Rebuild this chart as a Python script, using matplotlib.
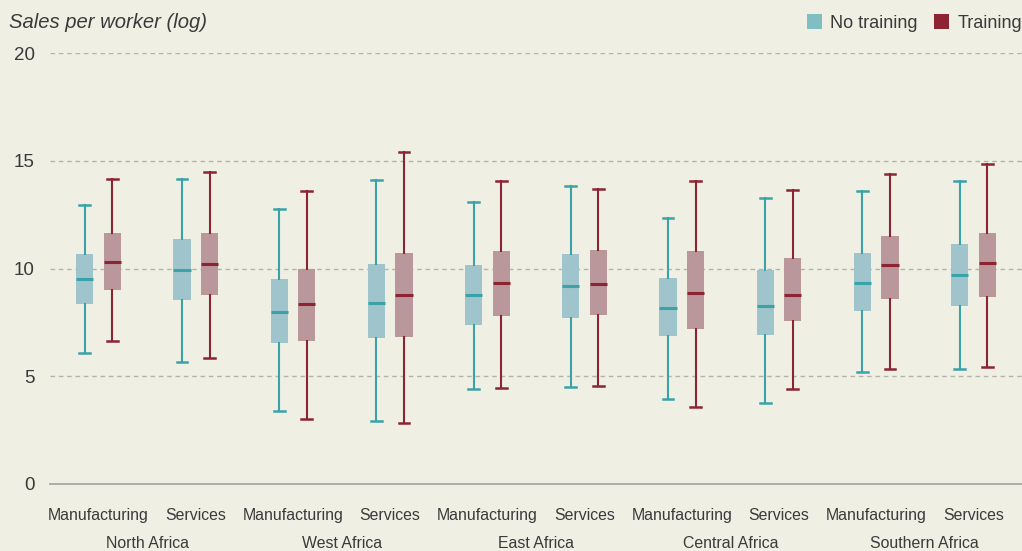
import numpy as np
import matplotlib.pyplot as plt
from matplotlib.patches import Patch
from matplotlib.transforms import blended_transform_factory

# data (log sales per worker)
regions = ['North Africa', 'West Africa', 'East Africa', 'Central Africa', 'Southern Africa']
sectors = ['Manufacturing', 'Services']

# order: NA-M, NA-S, WA-M, WA-S, EA-M, EA-S, CA-M, CA-S, SA-M, SA-S
nt_lo  = [6.08, 5.67, 3.40, 2.92, 4.43, 4.48, 3.94, 3.77, 5.22, 5.32]
nt_q1  = [8.34, 8.56, 6.56, 6.79, 7.36, 7.69, 6.85, 6.90, 8.01, 8.25]
nt_med = [9.49, 9.94, 8.00, 8.42, 8.79, 9.21, 8.19, 8.25, 9.33, 9.71]
nt_q3  = [10.65, 11.35, 9.53, 10.19, 10.14, 10.65, 9.58, 9.95, 10.74, 11.12]
nt_hi  = [12.93, 14.15, 12.76, 14.09, 13.08, 13.83, 12.33, 13.29, 13.58, 14.05]

tr_lo  = [6.65, 5.86, 3.02, 2.84, 4.47, 4.56, 3.57, 4.43, 5.35, 5.44]
tr_q1  = [8.98, 8.79, 6.65, 6.84, 7.78, 7.83, 7.18, 7.55, 8.57, 8.67]
tr_med = [10.29, 10.19, 8.34, 8.76, 9.32, 9.30, 8.84, 8.76, 10.16, 10.25]
tr_q3  = [11.67, 11.67, 10.00, 10.74, 10.79, 10.88, 10.79, 10.51, 11.53, 11.67]
tr_hi  = [14.15, 14.47, 13.61, 15.40, 14.05, 13.67, 14.05, 13.63, 14.37, 14.84]

yticks = [0, 5, 10, 15, 20]

BG = '#eff0e3'
NT_FILL, NT_LINE, NT_LEG = '#a0c4cb', '#3aa2a8', '#7fbec3'
TR_FILL, TR_LINE, TR_LEG = '#b9979a', '#8c2433', '#8c2433'
TXT = '#3a3a3a'
NARROW = ['Liberation Sans Narrow', 'Liberation Sans', 'DejaVu Sans']

plt.rcParams['font.family'] = ['Liberation Sans', 'DejaVu Sans']

fig = plt.figure(figsize=(10.22, 5.51), dpi=100, facecolor=BG)
ax = fig.add_axes([50 / 1022, 1 - 484 / 551, 1 - 50 / 1022, (484 - 53) / 551])
ax.set_facecolor(BG)


def stats(lo, q1, med, q3, hi):
    return [dict(whislo=a, q1=b, med=c, q3=d, whishi=e, fliers=[])
            for a, b, c, d, e in zip(lo, q1, med, q3, hi)]


x = np.arange(len(nt_med))
off = 0.142
w = 0.175

for st, pos, fill, line in [
    (stats(nt_lo, nt_q1, nt_med, nt_q3, nt_hi), x - off, NT_FILL, NT_LINE),
    (stats(tr_lo, tr_q1, tr_med, tr_q3, tr_hi), x + off, TR_FILL, TR_LINE),
]:
    ax.bxp(st, positions=pos, widths=w, capwidths=0.11, patch_artist=True,
           showfliers=False, manage_ticks=False,
           boxprops=dict(facecolor=fill, edgecolor='none', linewidth=0),
           medianprops=dict(color=line, linewidth=2.2),
           whiskerprops=dict(color=line, linewidth=1.5),
           capprops=dict(color=line, linewidth=1.8))

ax.set_xlim(-0.5, 9.5)
ax.set_ylim(0, 20)
ax.set_yticks(yticks)
ax.set_yticklabels([str(t) for t in yticks], fontsize=13.5, color=TXT)
for t in yticks[1:]:
    ax.axhline(t, color='#b3b3ad', linestyle=(0, (3.3, 2.7)), linewidth=1.0, zorder=0)
ax.axhline(0, color='#a8a8a4', linewidth=1.3, zorder=0, clip_on=False)

ax.set_xticks(x)
ax.set_xticklabels(sectors * len(regions), fontsize=11.4, color=TXT,
                   family=NARROW, fontstretch='condensed')
ax.tick_params(axis='both', length=0)
ax.tick_params(axis='y', pad=11)
ax.tick_params(axis='x', pad=17)

trans = blended_transform_factory(ax.transData, ax.transAxes)
for i, reg in enumerate(regions):
    ax.text(2 * i + 0.5, -0.138, reg, transform=trans, ha='center', va='center',
            fontsize=11.4, color=TXT, family=NARROW, fontstretch='condensed')

for s in ax.spines.values():
    s.set_visible(False)

fig.text(9 / 1022, 1 - 22 / 551, 'Sales per worker (log)', fontsize=14.6,
         style='italic', color=TXT, ha='left', va='center')

handles = [Patch(facecolor=NT_LEG, edgecolor='none', label='No training'),
           Patch(facecolor=TR_LEG, edgecolor='none', label='Training')]
fig.legend(handles=handles, loc='center right', bbox_to_anchor=(1.0, 1 - 23 / 551),
           ncol=2, frameon=False, fontsize=13, handlelength=0.85, handleheight=0.85,
           handletextpad=0.45, columnspacing=0.9, borderpad=0, borderaxespad=0,
           labelcolor=TXT)

fig.savefig('out.png', dpi=100, facecolor=BG)
